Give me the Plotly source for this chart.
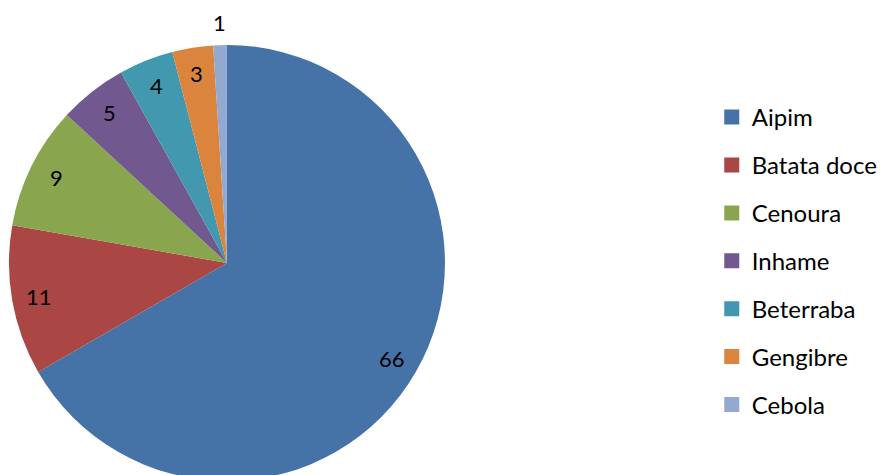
import math
import plotly.graph_objects as go

# Culturas e quantidades
categorias = ["Aipim", "Batata doce", "Cenoura", "Inhame", "Beterraba", "Gengibre", "Cebola"]
valores = [66, 11, 9, 5, 4, 3, 1]

cores = ["#4572A7", "#AA4643", "#89A54E", "#71588F", "#4198AF", "#DB843D", "#93A9CF"]

W, H = 883, 490
FONT = "Lato"

# pie placement in pixels (center and radius)
cx, cy, r = 228, 263, 219
dom_x = [(cx - r) / W, (cx + r) / W]
dom_y = [1 - (cy + r) / H, 1 - (cy - r) / H]

fig = go.Figure()
fig.add_trace(go.Pie(
    labels=categorias,
    values=valores,
    sort=False,
    direction="clockwise",
    rotation=0,
    marker=dict(colors=cores, line=dict(width=0)),
    textinfo="none",
    hoverinfo="label+value",
    showlegend=False,
    domain=dict(x=dom_x, y=dom_y),
))

# value labels placed along each slice's mid angle
total = sum(valores)
acc = 0
for v in valores:
    mid = (acc + v / 2) / total * 2 * math.pi
    acc += v
    k = 1.10 if v / total < 0.02 else 0.875
    px = cx + k * r * math.sin(mid)
    py = cy - k * r * math.cos(mid)
    fig.add_annotation(
        x=px / W, y=1 - py / H, xref="paper", yref="paper",
        text=str(v), showarrow=False,
        font=dict(family=FONT, size=22, color="#000000"),
        xanchor="center", yanchor="middle",
    )

# legend entries
for nome, cor in zip(categorias, cores):
    fig.add_trace(go.Scatter(
        x=[None], y=[None], mode="markers", name=nome,
        legendgroup=nome,
        marker=dict(symbol="square", size=15, color=cor),
        hoverinfo="skip",
    ))

fig.update_layout(
    width=W, height=H,
    margin=dict(l=0, r=0, t=0, b=0),
    paper_bgcolor="white", plot_bgcolor="white",
    xaxis=dict(visible=False), yaxis=dict(visible=False),
    legend=dict(
        x=715 / W, y=1 - 95 / H, xanchor="left", yanchor="top",
        font=dict(family=FONT, size=24, color="#000000"),
        tracegroupgap=13.7, itemsizing="trace",
        bgcolor="rgba(0,0,0,0)",
    ),
)

fig.write_html(
    "out.html",
    post_script="document.documentElement.style.overflow='hidden';document.body.style.overflow='hidden';document.body.style.margin='0';",
)
